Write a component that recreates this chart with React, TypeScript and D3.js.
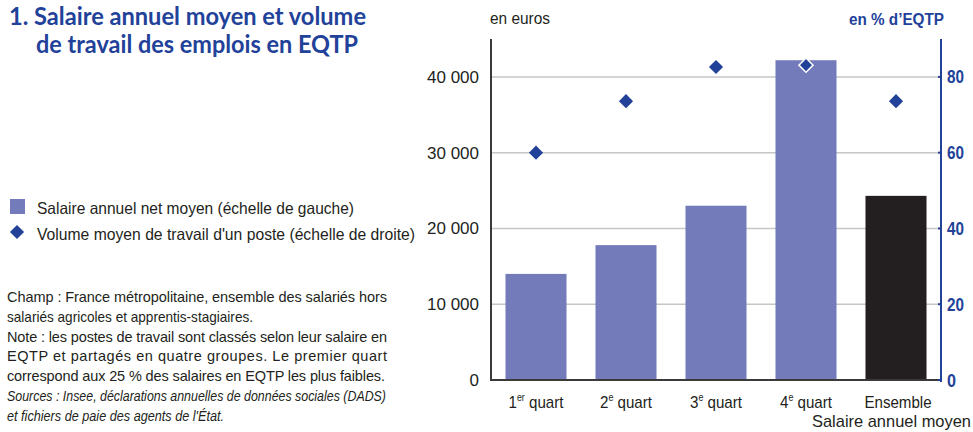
import React from 'react';
import * as d3 from 'd3';

const categories = ['1er', '2e', '3e', '4e', 'Ensemble'];
const salaire = [14000, 17800, 23000, 42200, 24300];
const volume = [60, 73.6, 82.6, 83.1, 73.6];
const leftTicks = [0, 10000, 20000, 30000, 40000];
const rightTicks = [0, 20, 40, 60, 80];
const notes = [
  { text: 'Champ : France métropolitaine, ensemble des salariés hors', w: 380, italic: false },
  { text: 'salariés agricoles et apprentis-stagiaires.', w: 246, italic: false },
  { text: 'Note : les postes de travail sont classés selon leur salaire en', w: 380, italic: false },
  { text: 'EQTP et partagés en quatre groupes. Le premier quart', w: 380, italic: false },
  { text: 'correspond aux 25 % des salaires en EQTP les plus faibles.', w: 378, italic: false },
  { text: 'Sources : Insee, déclarations annuelles de données sociales (DADS)', w: 379, italic: true },
  { text: "et fichiers de paie des agents de l'État.", w: 217, italic: true },
];

const BLUE = '#22429a';
const BAR = '#737bbb';
const DARK = '#231f20';
const FONT = '"Liberation Sans", Arial, sans-serif';

export default function App() {
  const left = 491, right = 941, top = 39, bottom = 380;
  const x = d3.scaleBand().domain(categories).range([left, right]).paddingInner(0.322).paddingOuter(0.161);
  const y = d3.scaleLinear().domain([0, 45000]).range([bottom, top]);
  const y2 = d3.scaleLinear().domain([0, 90]).range([bottom, top]);
  const diamond = d3.symbol().type(d3.symbolDiamond2).size(128)();
  const fmt = (v: number) => d3.format(',')(v).replace(/,/g, ' ');

  return (
    <svg width={973} height={432} style={{ position: 'absolute', left: 0, top: 0, background: '#fff' }}>
      <g fill={BLUE} fontFamily='Lato, "Open Sans", sans-serif' fontWeight="bold" fontSize={24.5}>
        <text x={9} y={25} textLength={357} lengthAdjust="spacingAndGlyphs">1. Salaire annuel moyen et volume</text>
        <text x={36} y={53} textLength={322} lengthAdjust="spacingAndGlyphs">de travail des emplois en EQTP</text>
      </g>

      <g fontFamily={FONT} fontSize={16.5} fill={DARK}>
        <rect x={10} y={199} width={15} height={15} fill={BAR} />
        <text x={37} y={214} textLength={317} lengthAdjust="spacingAndGlyphs">Salaire annuel net moyen (échelle de gauche)</text>
        <path d={diamond} transform="translate(17,232)" fill={BLUE} />
        <text x={37} y={240} textLength={378} lengthAdjust="spacingAndGlyphs">Volume moyen de travail d'un poste (échelle de droite)</text>
      </g>

      <g fontFamily={FONT} fontSize={14.5} fill={DARK}>
        {notes.map((n, i) => (
          <text key={i} x={7} y={302 + i * 19.8} fontStyle={n.italic ? 'italic' : 'normal'}
            textLength={n.w} lengthAdjust={n.w >= 378 && !n.italic ? 'spacing' : 'spacingAndGlyphs'}>{n.text}</text>
        ))}
      </g>

      {leftTicks.slice(1).map(t => (
        <line key={t} x1={left} x2={right} y1={y(t)} y2={y(t)} stroke="#c6c6c8" strokeWidth={1.5} />
      ))}

      {categories.map((c, i) => (
        <rect key={c} x={x(c)} y={y(salaire[i])} width={x.bandwidth()} height={bottom - y(salaire[i])}
          fill={i === 4 ? DARK : BAR} />
      ))}

      {categories.map((c, i) => (
        <path key={c} d={diamond}
          transform={`translate(${(x(c) as number) + x.bandwidth() / 2},${y2(volume[i])})`}
          fill={BLUE} stroke={i === 3 ? '#fff' : 'none'} strokeWidth={1.5} />
      ))}

      <line x1={left} x2={left} y1={top} y2={bottom + 1} stroke="#3a3a3a" strokeWidth={2} />
      <line x1={left} x2={right} y1={bottom} y2={bottom} stroke="#3a3a3a" strokeWidth={2} />
      <line x1={right} x2={right} y1={top} y2={bottom + 2} stroke={BLUE} strokeWidth={2} />

      <g fontFamily={FONT} fontSize={17} fill={DARK} textAnchor="end">
        {leftTicks.map(t => (
          <text key={t} x={479} y={y(t) + 6}>{fmt(t)}</text>
        ))}
      </g>
      <g fontFamily={FONT} fontSize={18} fill={BLUE} fontWeight="bold">
        {rightTicks.map(t => (
          <g key={t}>
            <line x1={right - 3} x2={right} y1={y2(t)} y2={y2(t)} stroke={BLUE} strokeWidth={2} />
            <text x={947} y={y2(t) + 6.5} textLength={t === 0 ? 9 : 17} lengthAdjust="spacingAndGlyphs">{t}</text>
          </g>
        ))}
      </g>

      <text x={490} y={24} fontFamily={FONT} fontSize={16} fill={DARK} textLength={60} lengthAdjust="spacingAndGlyphs">en euros</text>
      <text x={849} y={25} fontFamily={FONT} fontSize={16} fill={BLUE} fontWeight="bold" textLength={95} lengthAdjust="spacingAndGlyphs">en % d’EQTP</text>

      <g fontFamily={FONT} fontSize={17} fill={DARK} textAnchor="middle">
        {categories.map(c => {
          const cx = (x(c) as number) + x.bandwidth() / 2;
          if (c === 'Ensemble') {
            return (
              <g key={c} transform={`translate(${cx + 2},408) scale(0.89,1)`}>
                <text x={0} y={0}>Ensemble</text>
              </g>
            );
          }
          const num = c[0];
          const sup = c.slice(1);
          return (
            <g key={c} transform={`translate(${cx},408) scale(0.89,1)`}>
              <text x={0} y={0}>
                {num}<tspan fontSize={10} dy={-7}>{sup}</tspan><tspan dy={7}> quart</tspan>
              </text>
            </g>
          );
        })}
        <text x={971} y={427} textAnchor="end" textLength={159} lengthAdjust="spacingAndGlyphs">Salaire annuel moyen</text>
      </g>
    </svg>
  );
}
